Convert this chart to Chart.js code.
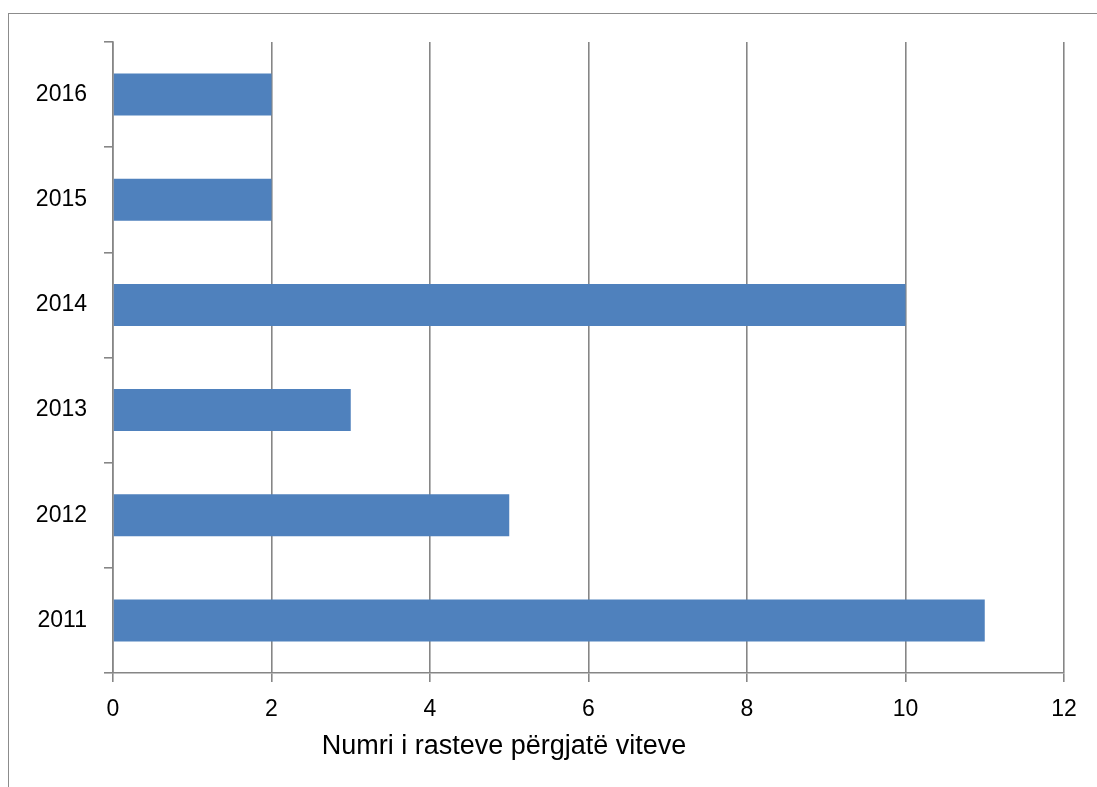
<!DOCTYPE html>
<html>
<head>
<meta charset="utf-8">
<script src="https://cdn.jsdelivr.net/npm/chart.js@4/dist/chart.umd.min.js"></script>
<style>
  html, body { margin: 0; padding: 0; background: #fff; overflow: hidden; }
  #wrap { position: relative; width: 1097px; height: 787px; }
  #frame {
    position: absolute; left: 8px; top: 13px; width: 1200px; height: 900px;
    border-top: 1px solid #8c8c8c; border-left: 1px solid #8c8c8c;
    box-sizing: border-box; pointer-events: none;
  }
  canvas { position: absolute; left: 0; top: 0; }
</style>
</head>
<body>
<div id="wrap">
  <div id="frame"></div>
  <canvas id="c" width="1097" height="787"></canvas>
</div>
<script>
// Years (drawn bottom to top) and number of cases per year
const years = ['2011', '2012', '2013', '2014', '2015', '2016'];
const cases = [11, 5, 3, 10, 2, 2];
const xTicks = [0, 2, 4, 6, 8, 10, 12];
const axisTitle = 'Numri i rasteve përgjatë viteve';

const FONT = '"Liberation Sans", Arial, sans-serif';
const AXIS_GRAY = '#868686';

// Axis caption drawn under the value axis
const captionPlugin = {
  id: 'caption',
  afterDraw(chart) {
    const ctx = chart.ctx;
    ctx.save();
    ctx.font = '27px ' + FONT;
    ctx.fillStyle = '#000';
    ctx.textAlign = 'center';
    ctx.textBaseline = 'middle';
    ctx.fillText(axisTitle, 504, 747);
    ctx.restore();
  }
};

new Chart(document.getElementById('c'), {
  type: 'bar',
  data: {
    labels: years,
    datasets: [{
      data: cases,
      backgroundColor: '#4f81bd',
      borderWidth: 0,
      barPercentage: 0.4,
      categoryPercentage: 1.0
    }]
  },
  options: {
    indexAxis: 'y',
    responsive: false,
    animation: false,
    events: [],
    layout: { padding: { top: 42, right: 33, left: 0, bottom: 0 } },
    plugins: { legend: { display: false }, tooltip: { enabled: false } },
    scales: {
      x: {
        min: 0,
        max: 12,
        afterBuildTicks(scale) { scale.ticks = xTicks.map(v => ({ value: v })); },
        afterFit(scale) { scale.height = 114; },
        grid: {
          color: AXIS_GRAY,
          lineWidth: 1.6,
          drawTicks: true,
          tickLength: 9
        },
        border: { display: true, color: AXIS_GRAY, width: 1.6 },
        ticks: {
          color: '#000',
          font: { family: FONT, size: 23 },
          padding: 14,
          maxRotation: 0
        }
      },
      y: {
        reverse: true,
        afterFit(scale) { scale.width = 113; },
        grid: {
          display: true,
          offset: true,
          drawOnChartArea: false,
          drawTicks: true,
          tickLength: 9,
          color: AXIS_GRAY,
          lineWidth: 1.6
        },
        border: { display: true, color: AXIS_GRAY, width: 1.6 },
        ticks: {
          color: '#000',
          font: { family: FONT, size: 23 },
          padding: 17
        }
      }
    }
  },
  plugins: [captionPlugin]
});
</script>
</body>
</html>
